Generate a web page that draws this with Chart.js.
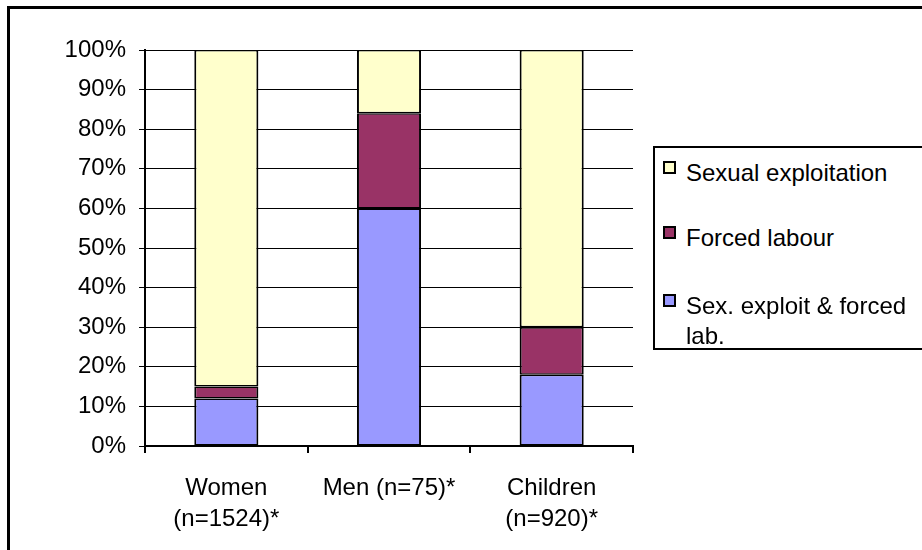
<!DOCTYPE html>
<html>
<head>
<meta charset="utf-8">
<script src="https://cdn.jsdelivr.net/npm/chart.js@4"></script>
<style>
  body { margin: 0; background: #fff; font-family: "Liberation Sans", Arial, sans-serif; }
  #wrap { position: relative; width: 922px; height: 550px; overflow: hidden; }
  #frame { position: absolute; left: 7px; top: 6px; width: 1000px; height: 600px;
           border-left: 3px solid #000; border-top: 3px solid #000; }
  canvas { position: absolute; left: 0; top: 0; }
  #legend { position: absolute; left: 653px; top: 146px; width: 300px; height: 200px;
            border: 2px solid #000; background: #fff; }
  .item { position: absolute; left: 31px; width: 240px; font-size: 24px; line-height: 30px; color: #000; }
  .box { position: absolute; left: -23px; top: 3px; width: 9px; height: 9px; border: 2px solid #000; }
</style>
</head>
<body>
<div id="wrap">
  <div id="frame"></div>
  <canvas id="myChart" width="922" height="550"></canvas>
  <div id="legend"></div>
</div>
<script>
const categorias = [['Women', '(n=1524)*'], 'Men (n=75)*', ['Children', '(n=920)*']]
const sexForced = [12, 60, 18]
const forcedLabour = [3, 24, 12]
const sexualExpl = [85, 16, 70]
const nomes = ['Sex. exploit & forced lab.', 'Forced labour', 'Sexual exploitation']
const cores = ['#9999FF', '#993366', '#FFFFCC']

const fonte = { family: '"Liberation Sans", Arial, sans-serif', size: 24 }

const ctx = document.getElementById('myChart')

let grafico = new Chart(ctx, {
  type: 'bar',
  data: {
    labels: categorias,
    datasets: [sexForced, forcedLabour, sexualExpl].map((d, i) => ({
      label: nomes[i],
      data: d,
      backgroundColor: cores[i],
      borderColor: '#000',
      // bordas internas mais finas para nao dobrar a linha entre segmentos
      borderWidth: { left: 2, right: 2, top: 1.5, bottom: 1.5 },
      borderSkipped: false,
      barPercentage: 0.394,
      categoryPercentage: 1
    }))
  },
  options: {
    responsive: false,
    animation: false,
    layout: { padding: { top: 50, right: 289, left: 0, bottom: 0 } },
    plugins: { legend: { display: false }, tooltip: { enabled: false } },
    scales: {
      x: {
        stacked: true,
        grid: { display: true, drawOnChartArea: false, offset: true, color: '#000', lineWidth: 2, tickLength: 7 },
        border: { color: '#000', width: 2 },
        ticks: { color: '#000', font: { ...fonte, lineHeight: 1.3 }, padding: 20, maxRotation: 0 },
        afterFit: s => { s.height = 104 }
      },
      y: {
        stacked: true,
        min: 0,
        max: 100,
        grid: { color: '#000', lineWidth: 1, tickLength: 6 },
        border: { color: '#000', width: 2 },
        ticks: { stepSize: 10, color: '#000', font: fonte, padding: 13, callback: v => v + '%' },
        afterFit: s => { s.width = 145 }
      }
    }
  }
})

// legenda em html, do topo para baixo
const legenda = document.getElementById('legend')
const topos = [10, 75, 143]
;[2, 1, 0].forEach((idx, k) => {
  const el = document.createElement('div')
  el.className = 'item'
  el.style.top = topos[k] + 'px'
  el.innerHTML = '<span class="box" style="background:' + cores[idx] + '"></span>' + nomes[idx]
  legenda.appendChild(el)
})
</script>
</body>
</html>
